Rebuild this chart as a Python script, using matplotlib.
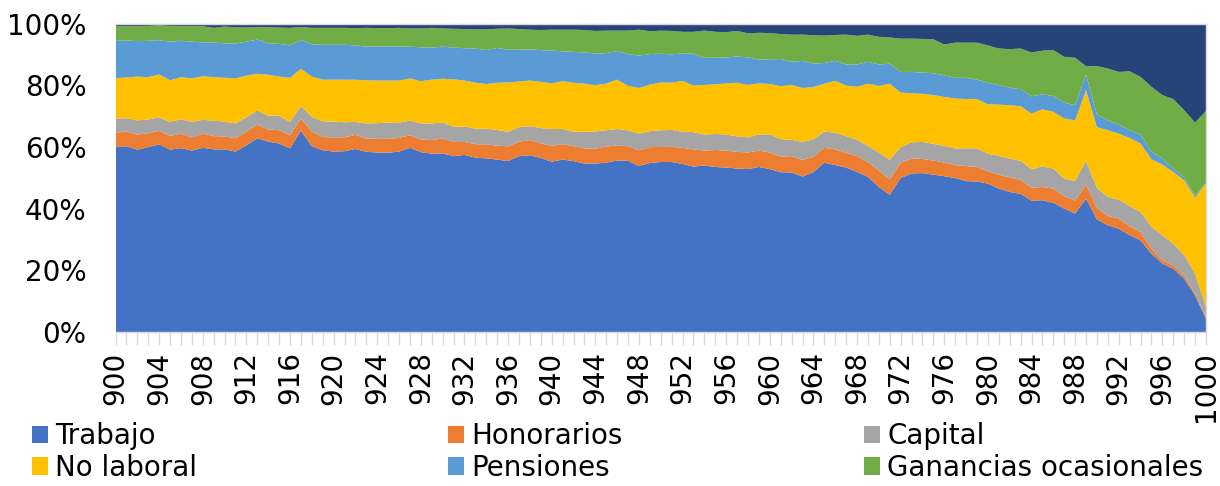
import numpy as np
import matplotlib
matplotlib.use("Agg")
import matplotlib.pyplot as plt
from matplotlib.patches import Patch
from matplotlib.ticker import MultipleLocator, PercentFormatter

# ---------------------------------------------
# datos (participacion % por componente)
# ---------------------------------------------
anios = list(range(900, 1001))

trabajo = [
    60.0, 60.2, 59.1, 59.9, 60.8, 59.1, 59.6, 58.8, 59.7, 59.2,
    59.2, 58.5, 60.5, 62.8, 61.7, 61.1, 59.5, 65.3, 60.2, 58.9,
    58.5, 58.6, 59.5, 58.4, 58.2, 58.1, 58.5, 59.7, 58.3, 57.8,
    57.9, 57.0, 57.4, 56.5, 56.3, 55.9, 55.4, 57.0, 57.3, 56.4,
    55.2, 55.9, 55.4, 54.6, 54.6, 54.9, 55.6, 55.5, 53.8, 54.8,
    55.1, 55.1, 54.5, 53.6, 54.0, 53.5, 53.3, 53.0, 52.8, 53.5,
    52.8, 51.8, 51.7, 50.4, 51.8, 54.9, 54.1, 53.3, 51.9, 50.3,
    47.0, 44.5, 49.9, 51.4, 51.5, 51.0, 50.5, 49.9, 48.9, 48.8,
    48.1, 46.5, 45.4, 44.8, 42.6, 42.7, 41.9, 40.0, 38.4, 43.2,
    36.5, 34.6, 33.5, 31.4, 29.7, 25.4, 22.2, 20.5, 17.3, 11.9,
    4.3,
]
honorarios = [
    4.6, 4.8, 4.9, 4.5, 4.4, 4.5, 4.7, 4.3, 4.6, 4.3,
    4.2, 4.3, 4.5, 4.4, 4.0, 4.3, 4.3, 3.9, 4.7, 4.3,
    4.6, 4.5, 4.6, 4.3, 4.4, 4.5, 4.4, 4.1, 4.1, 4.4,
    4.9, 4.6, 4.2, 4.4, 4.5, 4.5, 4.8, 4.7, 4.9, 4.8,
    5.1, 5.0, 4.8, 4.9, 4.8, 5.2, 4.9, 4.7, 5.1, 5.1,
    4.9, 4.9, 5.2, 5.6, 4.8, 5.5, 5.5, 5.4, 5.4, 5.3,
    5.4, 5.0, 5.3, 5.4, 5.0, 4.8, 5.1, 4.8, 5.1, 4.8,
    5.3, 5.0, 5.0, 4.8, 4.6, 4.6, 4.4, 4.2, 4.9, 4.7,
    4.0, 4.5, 4.7, 4.5, 4.2, 4.3, 4.6, 4.0, 4.2, 4.6,
    3.7, 3.0, 3.3, 2.9, 2.7, 1.6, 1.0, 1.1, 0.9, 0.7,
    0.6,
]
capital = [
    4.6, 4.3, 4.6, 4.5, 4.4, 4.5, 4.7, 5.0, 4.5, 5.0,
    4.8, 4.8, 4.6, 4.6, 4.4, 4.7, 4.3, 4.1, 4.8, 5.1,
    5.1, 4.9, 4.2, 4.9, 5.1, 5.3, 5.0, 4.7, 5.2, 5.4,
    5.1, 4.9, 5.0, 5.0, 5.1, 5.1, 4.7, 4.7, 4.5, 4.9,
    5.5, 4.9, 4.7, 5.4, 5.6, 5.3, 5.3, 5.2, 5.4, 5.2,
    5.4, 5.5, 5.2, 5.6, 5.2, 5.2, 5.2, 5.0, 4.9, 5.2,
    5.9, 5.7, 5.3, 5.8, 5.7, 5.3, 5.4, 5.4, 5.4, 5.2,
    5.9, 6.3, 5.0, 5.3, 5.5, 5.4, 5.4, 5.4, 5.7, 6.0,
    5.7, 6.1, 6.1, 6.2, 6.0, 6.7, 6.5, 5.7, 6.3, 7.7,
    6.5, 6.2, 6.1, 6.5, 6.5, 7.1, 8.2, 7.0, 6.7, 6.3,
    3.2,
]
no_laboral = [
    13.1, 13.2, 14.2, 13.7, 13.9, 13.5, 13.6, 14.1, 14.1, 14.1,
    14.2, 14.6, 13.5, 11.9, 13.3, 12.7, 14.3, 12.0, 13.1, 13.5,
    13.6, 13.8, 13.7, 14.0, 13.8, 13.6, 13.6, 13.7, 13.7, 14.2,
    14.2, 15.4, 14.9, 14.9, 14.5, 15.3, 16.0, 14.8, 14.8, 15.0,
    14.8, 15.5, 15.9, 15.6, 15.0, 15.1, 16.0, 14.4, 14.8, 15.1,
    15.5, 15.3, 16.5, 15.1, 16.1, 16.1, 16.6, 17.4, 17.0, 16.6,
    16.3, 17.2, 17.8, 17.5, 16.9, 15.5, 16.8, 16.4, 17.1, 20.2,
    21.6, 24.7, 17.7, 15.9, 15.6, 15.8, 15.9, 16.2, 16.0, 16.0,
    16.0, 16.6, 17.3, 17.7, 18.0, 18.5, 18.4, 19.5, 19.7, 22.9,
    19.7, 21.6, 21.4, 22.1, 22.2, 21.9, 22.9, 23.3, 24.3, 24.6,
    40.0,
]
pensiones = [
    12.1, 12.0, 11.5, 11.8, 11.1, 12.5, 11.8, 11.9, 11.0, 11.2,
    11.2, 11.3, 11.0, 11.1, 10.2, 10.6, 10.5, 9.4, 10.5, 11.3,
    11.3, 11.3, 11.2, 10.9, 11.1, 11.1, 11.0, 10.3, 11.0, 10.4,
    10.4, 10.3, 10.5, 11.1, 11.0, 11.3, 10.6, 10.3, 10.1, 10.3,
    10.6, 9.7, 10.0, 10.1, 10.3, 9.9, 9.3, 10.3, 10.5, 9.9,
    9.3, 9.2, 8.9, 10.3, 8.8, 8.6, 8.4, 8.5, 8.9, 7.7,
    8.0, 8.8, 7.5, 8.8, 7.6, 6.7, 6.5, 6.8, 7.2, 7.1,
    6.9, 6.5, 6.7, 6.9, 6.9, 7.1, 7.0, 6.7, 6.9, 6.3,
    7.0, 6.3, 5.7, 5.5, 5.6, 4.9, 5.1, 5.2, 4.9, 5.1,
    4.1, 3.2, 2.9, 2.5, 2.9, 2.4, 1.9, 1.1, 0.9, 0.6,
    0.2,
]
ganancias = [
    4.7, 4.6, 4.8, 4.8, 4.8, 5.1, 4.7, 5.1, 5.2, 4.8,
    5.4, 5.3, 4.6, 4.1, 5.2, 5.3, 5.7, 4.2, 5.3, 5.5,
    5.5, 5.5, 5.6, 6.1, 5.9, 5.9, 6.1, 5.9, 6.1, 6.4,
    5.9, 6.1, 6.2, 6.2, 6.7, 6.2, 6.9, 6.7, 6.4, 6.5,
    6.8, 7.0, 7.2, 7.3, 7.3, 7.3, 6.6, 7.6, 8.4, 7.4,
    7.5, 7.6, 7.0, 7.1, 8.8, 8.4, 8.2, 8.3, 7.8, 8.7,
    8.5, 8.1, 8.8, 8.5, 9.2, 8.9, 8.4, 9.7, 9.3, 8.8,
    9.0, 8.5, 10.8, 10.8, 10.9, 11.0, 10.0, 11.4, 11.4, 12.0,
    12.1, 11.9, 12.5, 13.2, 14.2, 14.1, 14.9, 14.8, 15.4, 2.7,
    15.7, 16.8, 17.1, 19.1, 18.7, 21.1, 20.6, 22.5, 21.8, 23.8,
    23.3,
]
otros = [
    0.9, 0.9, 0.9, 0.8, 0.6, 0.8, 0.9, 0.8, 0.9, 1.4,
    1.0, 1.2, 1.3, 1.1, 1.2, 1.3, 1.4, 1.1, 1.4, 1.4,
    1.4, 1.4, 1.5, 1.4, 1.5, 1.5, 1.4, 1.6, 1.6, 1.4,
    1.6, 1.7, 1.8, 1.9, 1.9, 1.7, 1.6, 1.8, 2.0, 2.1,
    2.0, 2.0, 2.0, 2.1, 2.4, 2.3, 2.3, 2.3, 2.0, 2.5,
    2.3, 2.4, 2.7, 2.7, 2.3, 2.7, 2.8, 2.4, 3.2, 3.0,
    3.1, 3.4, 3.6, 3.6, 3.8, 3.9, 3.7, 3.6, 4.0, 3.6,
    4.3, 4.5, 4.9, 4.9, 5.0, 5.1, 6.8, 6.2, 6.2, 6.2,
    7.1, 8.1, 8.3, 8.1, 9.4, 8.8, 8.6, 10.8, 11.1, 13.8,
    13.8, 14.6, 15.7, 15.5, 17.3, 20.5, 23.2, 24.5, 28.1, 32.1,
    28.4,
]

nombres = ["Trabajo", "Honorarios", "Capital", "No laboral",
           "Pensiones", "Ganancias ocasionales", "Otros"]
colores = ["#4472C4", "#ED7D31", "#A5A5A5", "#FFC000",
           "#5B9BD5", "#70AD47", "#264478"]

# 100% apilado, como en Excel
series = np.array([trabajo, honorarios, capital, no_laboral,
                   pensiones, ganancias, otros], dtype=float)
series = series / series.sum(axis=0) * 100

# ---------------------------------------------
# grafico
# ---------------------------------------------
FS = 20
GRIS = "#D9D9D9"

fig = plt.figure(figsize=(12.2, 4.86), dpi=100)
ax = fig.add_axes([0.0947, 0.3169, 0.8938, 0.6347])

ax.stackplot(anios, series, colors=colores, linewidth=0)

ax.set_xlim(900, 1000)
ax.set_ylim(0, 100)
ax.set_axisbelow(True)
ax.yaxis.grid(True, color=GRIS, linewidth=1)

ax.yaxis.set_major_locator(MultipleLocator(20))
ax.yaxis.set_major_formatter(PercentFormatter(100, decimals=0))
ax.tick_params(axis="y", length=0, pad=21, labelsize=FS)

ax.xaxis.set_major_locator(MultipleLocator(4))
ax.xaxis.set_minor_locator(MultipleLocator(1))
ax.tick_params(axis="x", which="both", length=9, width=1, color=GRIS,
               labelsize=FS, labelrotation=90, pad=5)

for s in ax.spines.values():
    s.set_color(GRIS)
    s.set_linewidth(1)
ax.spines["left"].set_visible(False)

# leyenda en tres columnas (sin la serie "Otros")
columnas = [(0, 3), (1, 4), (2, 5)]
posx = [32, 448, 864]
for (a, b), x in zip(columnas, posx):
    handles = [Patch(facecolor=colores[i], edgecolor="none") for i in (a, b)]
    etiquetas = [nombres[a], nombres[b]]
    fig.legend(handles, etiquetas, loc="upper left",
               bbox_to_anchor=(x / 1220, 1 - 422 / 486),
               frameon=False, fontsize=FS, borderpad=0, borderaxespad=0,
               handlelength=0.58, handleheight=0.58, handletextpad=0.26,
               labelspacing=0.14)

fig.savefig("out.png", dpi=100)
